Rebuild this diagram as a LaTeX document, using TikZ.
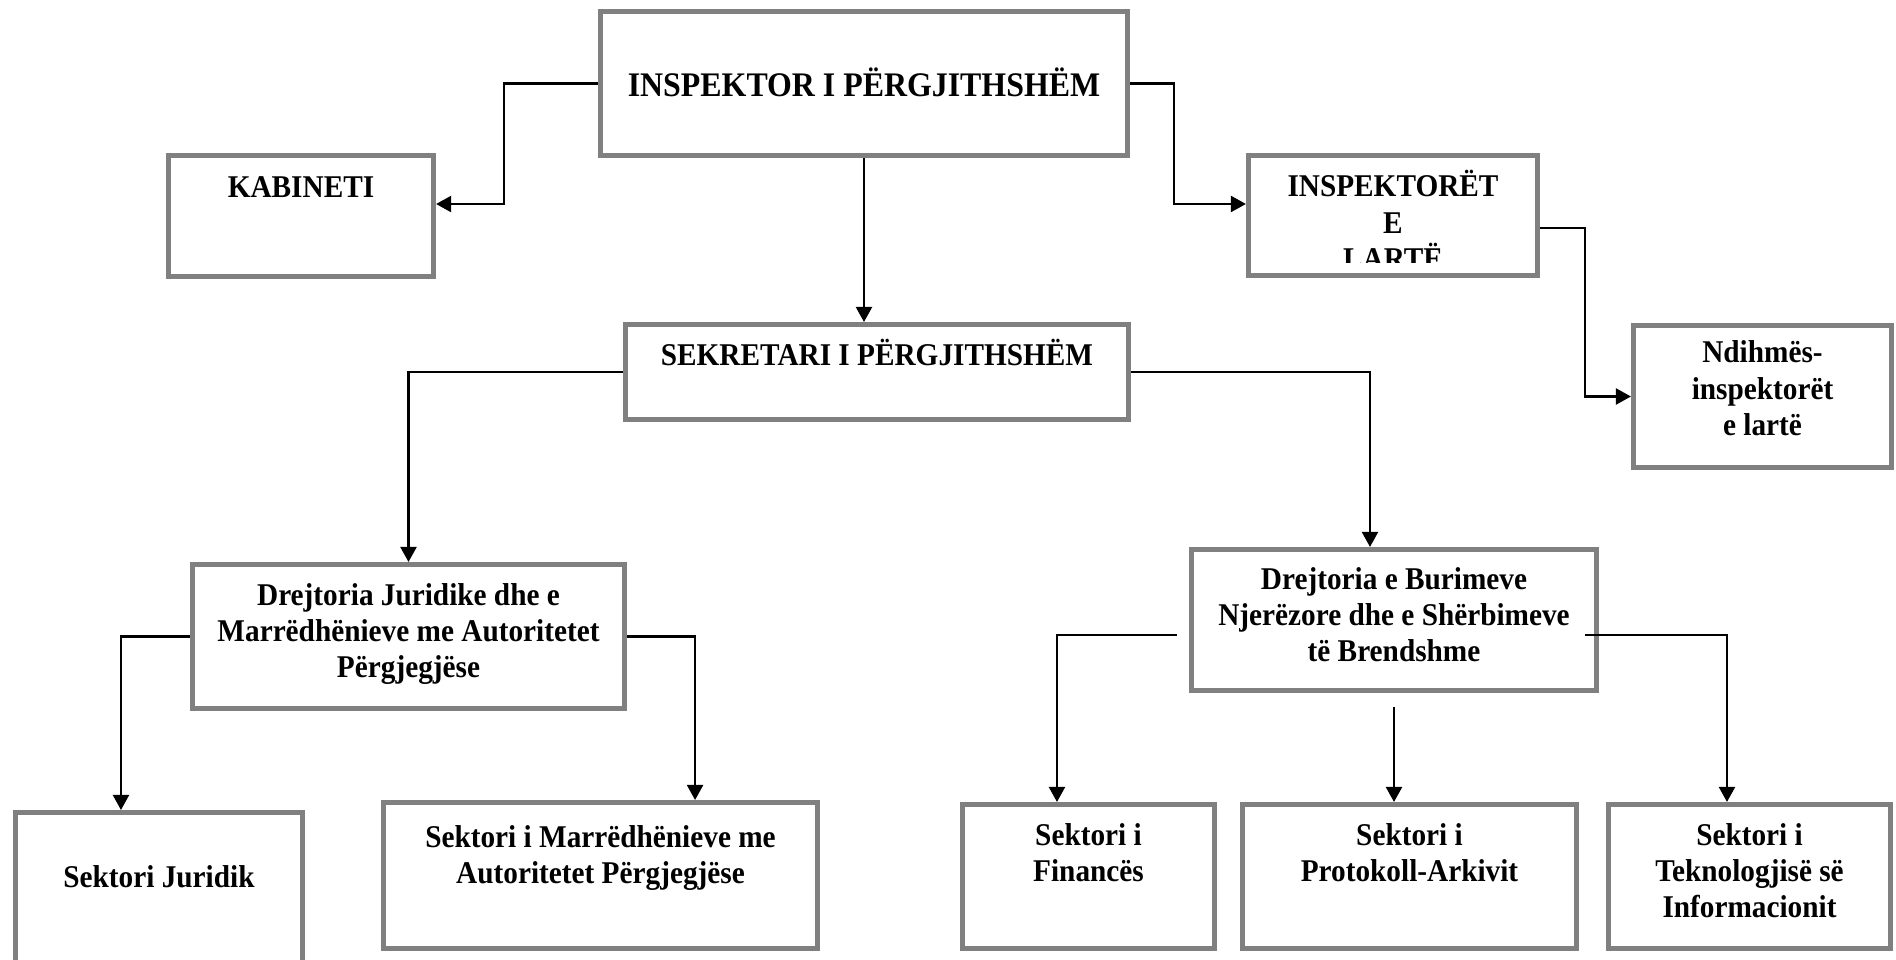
\documentclass[tikz,border=0pt]{standalone}
\usepackage{fontspec}
\usetikzlibrary{arrows.meta}
\newfontfamily\orgfont{Liberation Serif}[FakeStretch=0.925]
\newcommand{\orgtext}{\orgfont\bfseries\fontsize{9pt}{10.24pt}\selectfont}
\newcommand{\orgtitle}{\orgfont\bfseries\fontsize{9.8pt}{11pt}\selectfont}

\begin{document}
\begin{tikzpicture}
  [x=0.01cm, y=-0.01cm,
    box/.style={%
      rectangle, draw=gray, line width=1.42pt, align=center,
      inner sep=0pt, anchor=base, font=\orgtext
    },
    dims/.style n args={3}{%
      minimum width=#1cm, text height=#2cm, text depth=#3cm
    },
    link/.style={%
      ->, >={Triangle[length=1.5mm,width=1.6mm]}, draw=black, line width=0.6pt
    },
  ]

  \useasboundingbox (0,0) rectangle (1896,959);
  \clip (0,0) rectangle (1896,959);

  \node[box, font=\orgtitle, dims={5.27}{0.845}{0.595}] (insp) at (864,96) {INSPEKTOR I PËRGJITHSHËM};
  \node[box, dims={2.65}{0.415}{0.795}] (kab) at (301,197) {KABINETI};
  \node[box, dims={2.89}{1.135}{0.065}] (insp2) at (1393,269) {INSPEKTORËT\\E\\LARTË};
  \node[box, dims={2.58}{1.095}{0.325}] (ndih) at (1762.5,435) {Ndihmës-\\inspektorët\\e lartë};
  \node[box, dims={5.03}{0.405}{0.545}] (sek) at (877,365) {SEKRETARI I PËRGJITHSHËM};

  \node[box, dims={4.32}{1.125}{0.315}] (jur) at (408.5,677) {Drejtoria Juridike dhe  e\\Marrëdhënieve me Autoritetet\\Përgjegjëse};
  \node[box, dims={4.05}{1.115}{0.295}] (bur) at (1394,661) {Drejtoria e Burimeve\\Njerëzore dhe e Shërbimeve\\të Brendshme};

  \node[box, dims={2.87}{0.745}{1.03}] (sjur) at (159,887) {Sektori Juridik};
  \node[box, dims={4.34}{0.805}{0.655}] (smar) at (600.5,883) {Sektori i Marrëdhënieve me\\Autoritetet Përgjegjëse};
  \node[box, dims={2.52}{0.765}{0.675}] (sfin) at (1088.5,881) {Sektori i\\Financës};
  \node[box, dims={3.34}{0.765}{0.675}] (sprot) at (1409.5,881) {Sektori i\\Protokoll-Arkivit};
  \node[box, dims={2.82}{1.125}{0.315}] (stek) at (1749.5,917) {Sektori i\\Teknologjisë së\\Informacionit};

  % the last line of the box is cut off
  \fill[white] ([shift={(0.05cm,0.05cm)}]insp2.south west) rectangle ([shift={(-0.05cm,0.15cm)}]insp2.south east);

  \draw[link] (insp.west) -- ++(-94,0) |- ([yshift=0.12cm]kab.east);
  \draw[link] (insp.east) -- ++(44,0) |- ([yshift=0.115cm]insp2.west);
  \draw[link] (insp.south) -- (insp.south |- sek.north);
  \draw[link] ([yshift=-0.125cm]insp2.east) -- ++(45,0) |- (ndih.west);

  \draw[link] (sek.west) -| (jur.north);
  \draw[link] (sek.east) -| ([xshift=-0.24cm]bur.north);

  \draw[link] (jur.west) -| ([xshift=-0.38cm]sjur.north);
  \draw[link] (jur.east) -| ([xshift=0.945cm]smar.north);

  \draw[link] ([shift={(-0.12cm,-0.15cm)}]bur.west) -| ([xshift=-0.315cm]sfin.north);
  \draw[link] ([yshift=-0.14cm]bur.south) -- (bur.south |- sprot.north);
  \draw[link] ([shift={(-0.14cm,-0.15cm)}]bur.east) -| ([xshift=-0.225cm]stek.north);

\end{tikzpicture}
\end{document}
